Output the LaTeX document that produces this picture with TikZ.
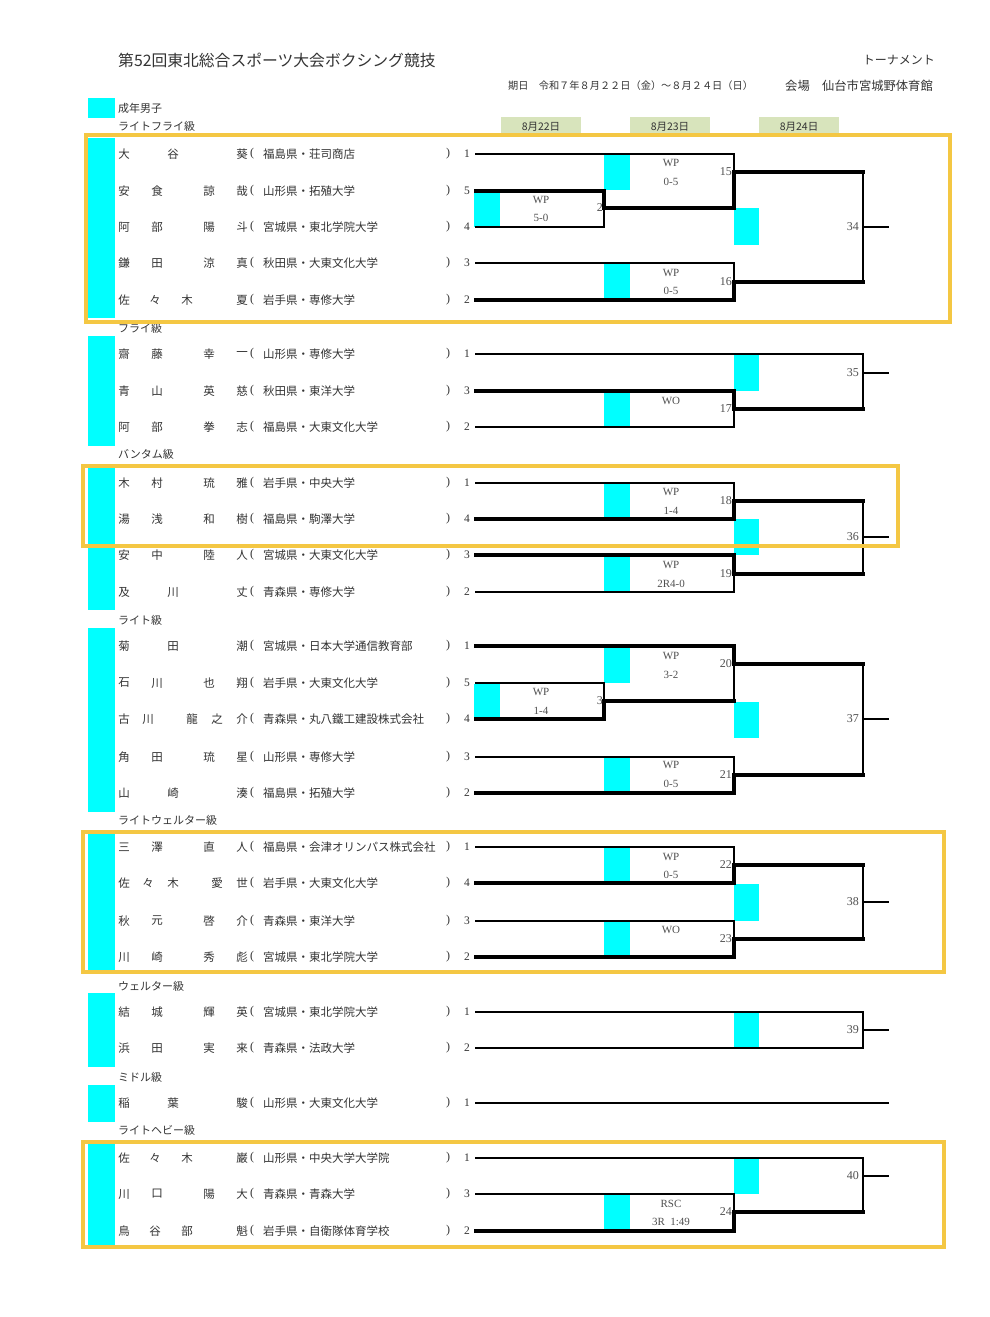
\documentclass[tikz,border=0pt]{standalone}
\usepackage{fontspec}
\setmainfont{Liberation Serif}
\newfontfamily\jp{Noto Sans CJK JP}
\definecolor{cy}{HTML}{00FFFF}
\definecolor{fr}{HTML}{F4C743}
\definecolor{dg}{HTML}{D8E4BC}
\definecolor{tx}{HTML}{333333}
\definecolor{lb}{HTML}{505050}
\tikzset{
  nm/.style={inner sep=0pt, text=tx, font=\jp\fontsize{11.5}{13}\selectfont},
  par/.style={inner sep=0pt, text=tx, font=\fontsize{12}{13}\selectfont},
  seed/.style={inner sep=0pt, text=tx, font=\fontsize{11.5}{13}\selectfont},
  cls/.style={inner sep=0pt, anchor=west, text=tx, font=\jp\fontsize{11}{13}\selectfont},
  res/.style={inner sep=0pt, text=lb, font=\fontsize{11}{12}\selectfont},
  bno/.style={inner sep=0pt, anchor=east, text=lb, font=\fontsize{12}{13}\selectfont},
  ln/.style={line width=1.8pt, line cap=rect},
  wl/.style={line width=4pt, line cap=rect},
  frm/.style={draw=fr, line width=4.5pt},
  cyb/.style={fill=cy, draw=none},
  datebox/.style={fill=dg, draw=none, minimum width=80pt, minimum height=20pt, inner sep=0pt, text=tx, font=\jp\fontsize{10.5}{12}\selectfont}
}
\newcommand\prow[4]{%
  \foreach \xx/\cc [count=\k] in {#2}{\node[nm] (p#1-\k) at (\xx,#1) {\cc};}
  \node[par] (lp#1) at (252,#1) {(};
  \node[nm,anchor=west] (o#1) at (263,#1) {#3};
  \node[par] (rp#1) at (448,#1) {)};
  \node[seed] (s#1) at (467,#1) {#4};
}
\begin{document}
\begin{tikzpicture}[x=1pt,y=-1pt]
\useasboundingbox (0,0) rectangle (990,1317);
\fill[white] (0,0) rectangle (990,1317);

% header
\node[inner sep=0pt, anchor=west, text=tx, font=\jp\fontsize{15.8}{17}\selectfont] (title) at (118,60) {第52回東北総合スポーツ大会ボクシング競技};
\node[inner sep=0pt, anchor=east, text=tx, font=\jp\fontsize{12}{14}\selectfont] (tn) at (935,60) {トーナメント};
\node[inner sep=0pt, anchor=west, text=tx, font=\jp\fontsize{10.2}{12}\selectfont] (kijitsu) at (508,86) {期日　令和７年８月２２日（金）～８月２４日（日）};
\node[inner sep=0pt, anchor=east, text=tx, font=\jp\fontsize{12.3}{14}\selectfont] (kaijo) at (933,86) {会場　仙台市宮城野体育館};

% legend
\fill[cyb] (88,98) rectangle (115,118);
\node[cls] (seinen) at (118,108) {成年男子};

% date boxes
\node[datebox] (d1) at (541,127) {8月22日};
\node[datebox] (d2) at (670,127) {8月23日};
\node[datebox] (d3) at (799,127) {8月24日};

% left cyan bars
\fill[cyb] (88,138) rectangle (115,318);
\fill[cyb] (88,336) rectangle (115,446);
\fill[cyb] (88,468) rectangle (115,610);
\fill[cyb] (88,628) rectangle (115,812);
\fill[cyb] (88,834) rectangle (115,970);
\fill[cyb] (88,993) rectangle (115,1067);
\fill[cyb] (88,1085) rectangle (115,1122);
\fill[cyb] (88,1143) rectangle (115,1245);

% bracket cyan cells
\foreach \a/\b/\c/\d in {474/191/500/227, 604/155/630/190, 604/264/630/300, 734/208/759/245,
  604/393/630/427, 734/354/759/391,
  604/483/630/518, 604/557/630/592, 734/519/759/555,
  474/684/500/719, 604/647/630/683, 604/757/630/792, 734/702/759/738,
  604/848/630/883, 604/922/630/957, 734/884/759/921,
  734/1013/759/1048,
  604/1195/630/1230, 734/1158/759/1194}
  {\fill[cyb] (\a,\b) rectangle (\c,\d);}

% class labels
\node[cls] (c1) at (118,126) {ライトフライ級};
\node[cls] (c2) at (118,328) {フライ級};
\node[cls] (c3) at (118,454) {バンタム級};
\node[cls] (c4) at (118,620) {ライト級};
\node[cls] (c5) at (118,820) {ライトウェルター級};
\node[cls] (c6) at (118,986) {ウェルター級};
\node[cls] (c7) at (118,1077) {ミドル級};
\node[cls] (c8) at (118,1130) {ライトヘビー級};

% players
\prow{154}{124/大,173/谷,242/葵}{福島県・荘司商店}{1}
\prow{191}{124/安,157/食,209/諒,242/哉}{山形県・拓殖大学}{5}
\prow{227}{124/阿,157/部,209/陽,242/斗}{宮城県・東北学院大学}{4}
\prow{263}{124/鎌,157/田,209/涼,242/真}{秋田県・大東文化大学}{3}
\prow{300}{124/佐,155/々,187/木,242/夏}{岩手県・専修大学}{2}

\prow{354}{124/齋,157/藤,209/幸,242/一}{山形県・専修大学}{1}
\prow{391}{124/青,157/山,209/英,242/慈}{秋田県・東洋大学}{3}
\prow{427}{124/阿,157/部,209/拳,242/志}{福島県・大東文化大学}{2}

\prow{483}{124/木,157/村,209/琉,242/雅}{岩手県・中央大学}{1}
\prow{519}{124/湯,157/浅,209/和,242/樹}{福島県・駒澤大学}{4}
\prow{555}{124/安,157/中,209/陸,242/人}{宮城県・大東文化大学}{3}
\prow{592}{124/及,173/川,242/丈}{青森県・専修大学}{2}

\prow{646}{124/菊,173/田,242/潮}{宮城県・日本大学通信教育部}{1}
\prow{683}{124/石,157/川,209/也,242/翔}{岩手県・大東文化大学}{5}
\prow{719}{124/古,148/川,192/龍,217/之,242/介}{青森県・丸八鐵工建設株式会社}{4}
\prow{757}{124/角,157/田,209/琉,242/星}{山形県・専修大学}{3}
\prow{793}{124/山,173/崎,242/湊}{福島県・拓殖大学}{2}

\prow{847}{124/三,157/澤,209/直,242/人}{福島県・会津オリンパス株式会社}{1}
\prow{883}{124/佐,148/々,173/木,217/愛,242/世}{岩手県・大東文化大学}{4}
\prow{921}{124/秋,157/元,209/啓,242/介}{青森県・東洋大学}{3}
\prow{957}{124/川,157/崎,209/秀,242/彪}{宮城県・東北学院大学}{2}

\prow{1012}{124/結,157/城,209/輝,242/英}{宮城県・東北学院大学}{1}
\prow{1048}{124/浜,157/田,209/実,242/来}{青森県・法政大学}{2}

\prow{1103}{124/稲,173/葉,242/駿}{山形県・大東文化大学}{1}

\prow{1158}{124/佐,155/々,187/木,242/巌}{山形県・中央大学大学院}{1}
\prow{1194}{124/川,157/口,209/陽,242/大}{青森県・青森大学}{3}
\prow{1231}{124/鳥,155/谷,187/部,242/魁}{岩手県・自衛隊体育学校}{2}

% ---- brackets ----
% Light fly
\draw[ln] (476,154) -- (734,154) -- (734,172);
\draw[wl] (604,208) -- (734,208) -- (734,172) -- (863,172);
\draw[wl] (476,191) -- (604,191) -- (604,208);
\draw[ln] (604,208) -- (604,227) -- (476,227);
\draw[ln] (476,263) -- (734,263) -- (734,282);
\draw[wl] (476,300) -- (734,300) -- (734,282) -- (863,282);
\draw[ln] (863,172) -- (863,282);
\draw[ln] (863,227) -- (888,227);
% Fly
\draw[ln] (476,354) -- (863,354) -- (863,409);
\draw[wl] (476,391) -- (734,391) -- (734,409) -- (863,409);
\draw[ln] (734,409) -- (734,427) -- (476,427);
\draw[ln] (863,373) -- (888,373);
% Bantam
\draw[ln] (476,483) -- (734,483) -- (734,501);
\draw[wl] (476,519) -- (734,519) -- (734,501) -- (863,501);
\draw[wl] (476,555) -- (734,555) -- (734,574) -- (863,574);
\draw[ln] (734,574) -- (734,592) -- (476,592);
\draw[ln] (863,501) -- (863,574);
\draw[ln] (863,537) -- (888,537);
% Light
\draw[wl] (476,646) -- (734,646) -- (734,664) -- (863,664);
\draw[ln] (734,664) -- (734,701);
\draw[wl] (604,701) -- (734,701);
\draw[ln] (476,683) -- (604,683) -- (604,701);
\draw[wl] (604,701) -- (604,719) -- (476,719);
\draw[ln] (476,757) -- (734,757) -- (734,775);
\draw[wl] (476,793) -- (734,793) -- (734,775) -- (863,775);
\draw[ln] (863,664) -- (863,775);
\draw[ln] (863,719) -- (888,719);
% Light welter
\draw[ln] (476,847) -- (734,847) -- (734,865);
\draw[wl] (476,883) -- (734,883) -- (734,865) -- (863,865);
\draw[ln] (476,921) -- (734,921) -- (734,939);
\draw[wl] (476,957) -- (734,957) -- (734,939) -- (863,939);
\draw[ln] (863,865) -- (863,939);
\draw[ln] (863,902) -- (888,902);
% Welter
\draw[ln] (476,1012) -- (863,1012) -- (863,1048) -- (476,1048);
\draw[ln] (863,1030) -- (888,1030);
% Middle
\draw[ln] (476,1103) -- (888,1103);
% Light heavy
\draw[ln] (476,1158) -- (863,1158) -- (863,1212);
\draw[ln] (476,1194) -- (734,1194) -- (734,1212);
\draw[wl] (476,1231) -- (734,1231) -- (734,1212) -- (863,1212);
\draw[ln] (863,1176) -- (888,1176);

% results
\node[res] (r15a) at (671,163) {WP};  \node[res] (r15b) at (671,182) {0-5};
\node[res] (r2a) at (541,200) {WP};   \node[res] (r2b) at (541,218) {5-0};
\node[res] (r16a) at (671,273) {WP};  \node[res] (r16b) at (671,291) {0-5};
\node[res] (r17a) at (671,401) {WO};
\node[res] (r18a) at (671,492) {WP};  \node[res] (r18b) at (671,511) {1-4};
\node[res] (r19a) at (671,565) {WP};  \node[res] (r19b) at (671,584) {2R4-0};
\node[res] (r20a) at (671,656) {WP};  \node[res] (r20b) at (671,675) {3-2};
\node[res] (r3a) at (541,692) {WP};   \node[res] (r3b) at (541,711) {1-4};
\node[res] (r21a) at (671,765) {WP};  \node[res] (r21b) at (671,784) {0-5};
\node[res] (r22a) at (671,857) {WP};  \node[res] (r22b) at (671,875) {0-5};
\node[res] (r23a) at (671,930) {WO};
\node[res] (r24a) at (671,1204) {RSC}; \node[res] (r24b) at (671,1222) {3R\ \ 1:49};

% bout numbers
\node[bno] (b2) at (603,208) {2};
\node[bno] (b3) at (603,701) {3};
\foreach \n/\yy in {15/172,16/282,17/409,18/501,19/574,20/664,21/775,22/865,23/939,24/1212}
  {\node[bno] (b\n) at (732,\yy) {\n};}
\foreach \n/\yy in {34/227,35/373,36/537,37/719,38/902,39/1030,40/1176}
  {\node[bno] (b\n) at (859,\yy) {\n};}

% frames
\draw[frm] (86,135) rectangle (950,322);
\draw[frm] (83,466) rectangle (898,546);
\draw[frm] (83,832) rectangle (944,972);
\draw[frm] (83,1142) rectangle (944,1247);
\end{tikzpicture}
\end{document}
